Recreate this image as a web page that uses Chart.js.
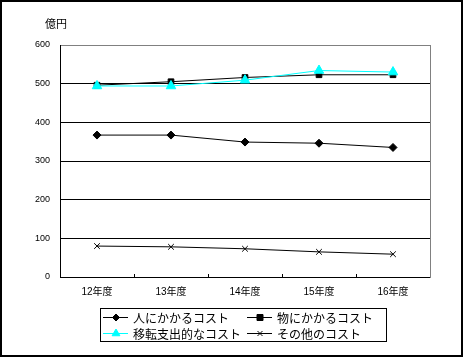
<!DOCTYPE html>
<html>
<head>
<meta charset="utf-8">
<script src="https://cdn.jsdelivr.net/npm/chart.js@4/dist/chart.umd.min.js"></script>
<style>
  html, body { margin: 0; padding: 0; background: #fff; }
  #wrap { position: relative; width: 463px; height: 357px; }
  canvas { display: block; background: #fff; }
</style>
</head>
<body>
<div id="wrap"><canvas id="c" width="463" height="357"></canvas></div>
<script>
// ---- data ----
const categories = ['12年度', '13年度', '14年度', '15年度', '16年度'];
const seriesNames = ['人にかかるコスト', '物にかかるコスト', '移転支出的なコスト', 'その他のコスト'];
const personnelCost = [367, 367, 349, 346, 335];
const goodsCost = [496, 505, 516, 523, 523];
const transferCost = [494, 494, 509, 534, 530];
const otherCost = [80, 78, 73, 65, 59];
const yMin = 0, yMax = 600, yStep = 100;
const unitLabel = '億円';

const BLACK = '#000000';
const CYAN = '#00FFFF';
const GRAY = '#808080';

const seriesStyles = [
  { color: BLACK, pointStyle: 'rectRot', radius: 4, legendR: 3.5 },
  { color: BLACK, pointStyle: 'rect', radius: 4, legendR: 4 },
  { color: CYAN, pointStyle: 'triangle', radius: 5.5, legendR: 4.5 },
  { color: BLACK, pointStyle: 'crossRot', radius: 4, legendR: 3.5 }
];
const seriesData = [personnelCost, goodsCost, transferCost, otherCost];

const datasets = seriesData.map((d, i) => ({
  label: seriesNames[i],
  data: d,
  borderColor: seriesStyles[i].color,
  backgroundColor: seriesStyles[i].color,
  pointBackgroundColor: seriesStyles[i].color,
  pointBorderColor: seriesStyles[i].color,
  pointStyle: seriesStyles[i].pointStyle,
  pointRadius: seriesStyles[i].radius,
  pointBorderWidth: 1,
  borderWidth: 1,
  tension: 0,
  fill: false,
  order: i === 2 ? 0 : 1
}));

function drawMarker(ctx, style, x, y, r, color) {
  ctx.save();
  ctx.fillStyle = color;
  ctx.strokeStyle = color;
  ctx.lineWidth = 1;
  ctx.beginPath();
  if (style === 'rectRot') {
    ctx.moveTo(x, y - r); ctx.lineTo(x + r, y); ctx.lineTo(x, y + r); ctx.lineTo(x - r, y); ctx.closePath();
    ctx.fill(); ctx.stroke();
  } else if (style === 'rect') {
    const s = r * 0.75;
    ctx.rect(x - s, y - s, 2 * s, 2 * s); ctx.fill(); ctx.stroke();
  } else if (style === 'triangle') {
    ctx.moveTo(x, y - r); ctx.lineTo(x + r * 0.866, y + r * 0.5); ctx.lineTo(x - r * 0.866, y + r * 0.5); ctx.closePath();
    ctx.fill(); ctx.stroke();
  } else if (style === 'crossRot') {
    const s = r * 0.707;
    ctx.moveTo(x - s, y - s); ctx.lineTo(x + s, y + s);
    ctx.moveTo(x + s, y - s); ctx.lineTo(x - s, y + s);
    ctx.stroke();
  }
  ctx.restore();
}

const decorPlugin = {
  id: 'decor',
  afterDatasetsDraw(chart) {
    const ctx = chart.ctx;
    const a = chart.chartArea;
    const xs = chart.scales.x;
    ctx.save();
    // right border (gray)
    ctx.strokeStyle = GRAY;
    ctx.lineWidth = 1;
    ctx.beginPath();
    ctx.moveTo(Math.round(a.right) + 0.5, Math.round(a.top));
    ctx.lineTo(Math.round(a.right) + 0.5, Math.round(a.bottom) + 1);
    ctx.stroke();
    // inner category boundary ticks
    ctx.strokeStyle = BLACK;
    ctx.beginPath();
    for (let i = 1; i < categories.length; i++) {
      const x = Math.round((xs.getPixelForValue(i - 1) + xs.getPixelForValue(i)) / 2) + 0.5;
      ctx.moveTo(x, a.bottom - 3);
      ctx.lineTo(x, a.bottom);
    }
    ctx.stroke();
    ctx.restore();
  },
  afterDraw(chart) {
    const ctx = chart.ctx;
    ctx.save();
    // unit label
    ctx.fillStyle = BLACK;
    ctx.font = '11px "Noto Sans CJK JP"';
    ctx.textBaseline = 'middle';
    ctx.textAlign = 'left';
    ctx.fillText(unitLabel, 45, 24);
    // legend box
    ctx.strokeStyle = BLACK;
    ctx.lineWidth = 1;
    ctx.strokeRect(100.5, 308.5, 286, 33);
    const colX = [103, 247];
    const rowY = [317, 333];
    ctx.font = '12px "Noto Sans CJK JP"';
    for (let i = 0; i < seriesNames.length; i++) {
      const cx = colX[i % 2];
      const cy = rowY[Math.floor(i / 2)];
      const st = seriesStyles[i];
      ctx.strokeStyle = st.color;
      ctx.beginPath();
      ctx.moveTo(cx, cy + 0.5);
      ctx.lineTo(cx + 25, cy + 0.5);
      ctx.stroke();
      drawMarker(ctx, st.pointStyle, cx + 13, cy + 0.5, st.legendR, st.color);
      ctx.fillStyle = BLACK;
      ctx.fillText(seriesNames[i], cx + 30, cy + 1);
    }
    // outer border
    ctx.strokeStyle = BLACK;
    ctx.lineWidth = 2;
    ctx.strokeRect(1, 1, 461, 355);
    ctx.restore();
  }
};

new Chart(document.getElementById('c'), {
  type: 'line',
  data: { labels: categories, datasets },
  options: {
    responsive: false,
    animation: false,
    events: [],
    layout: { padding: { left: 0, right: 33, top: 45, bottom: 60 } },
    plugins: { legend: { display: false }, tooltip: { enabled: false }, title: { display: false } },
    scales: {
      x: {
        type: 'category',
        offset: true,
        grid: { display: false, drawTicks: false },
        border: { display: true, color: BLACK, width: 1 },
        ticks: {
          color: BLACK,
          font: { family: '"Liberation Sans", "Noto Sans CJK JP"', size: 10 },
          padding: 9,
          maxRotation: 0,
          autoSkip: false
        },
        afterFit(s) { s.height = 20; }
      },
      y: {
        min: yMin, max: yMax,
        grid: {
          drawTicks: false,
          color: (c) => (c.tick && c.tick.value === yMax ? GRAY : BLACK),
          lineWidth: 1
        },
        border: { display: true, color: BLACK, width: 1 },
        ticks: {
          stepSize: yStep,
          color: BLACK,
          font: { family: '"Liberation Sans", Arial', size: 9 },
          padding: 10
        },
        afterFit(s) { s.width = 60; }
      }
    }
  },
  plugins: [decorPlugin]
});
</script>
</body>
</html>
